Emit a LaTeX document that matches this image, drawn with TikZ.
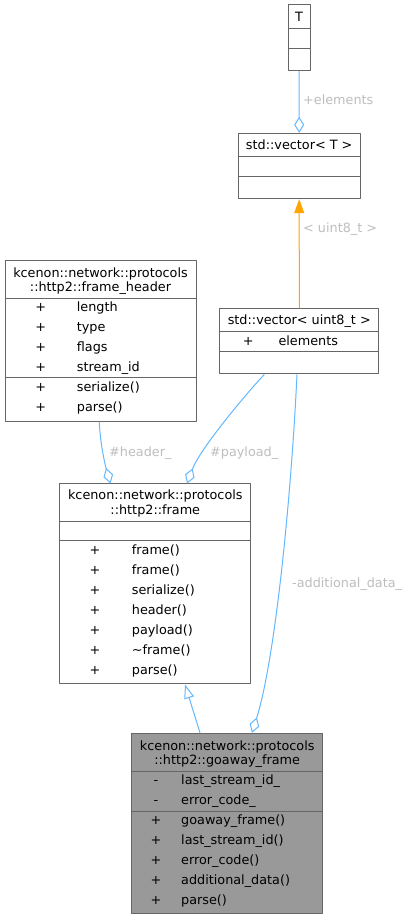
\documentclass[tikz,border=0pt]{standalone}
\usepackage{fontspec}
\setmainfont{DejaVu Sans}
\usetikzlibrary{arrows.meta}
\definecolor{boxcol}{rgb}{0.4,0.4,0.4}
\definecolor{edgecol}{HTML}{63B8FF}
\definecolor{tmplcol}{HTML}{FFA500}
\definecolor{lblcol}{HTML}{BEBEBE}
\definecolor{gfill}{HTML}{999999}

\begin{document}
\begin{tikzpicture}[>=latex,line join=bevel,
  cls/.style={draw=boxcol,line width=1bp,inner sep=0pt,rectangle},
  rowline/.style={draw=boxcol,line width=1bp},
  txt/.style={inner sep=0pt,text height=9bp,text depth=0bp,font=\fontsize{12.8bp}{14bp}\selectfont},
  mem/.style={txt,anchor=west},
  lbl/.style={txt,text=lblcol,anchor=west},
  link/.style={edgecol,line width=1bp},
  agg/.style={link,arrows={Diamond[open,length=16bp,width=10bp]-}},
]
%%
\begin{scope}
  \definecolor{fillcol}{rgb}{1.0,1.0,1.0};
  \pgfsetfillcolor{fillcol}
  \fill (0.0bp,0.0bp) -- (0.0bp,919.0bp) -- (411.0bp,919.0bp) -- (411.0bp,0.0bp) -- cycle;
\end{scope}
%% boxes
  \node (tT) at (299.0bp,881.2bp) [cls,minimum width=22bp,minimum height=65.7bp] {};
  \node (vecT) at (299.2bp,753.0bp) [cls,minimum width=121.7bp,minimum height=65.4bp] {};
  \node (vecU) at (299.3bp,577.5bp) [cls,minimum width=158.7bp,minimum height=65bp] {};
  \node (hdr) at (100.5bp,577.9bp) [cls,minimum width=191bp,minimum height=160.3bp] {};
  \node (frm) at (155.3bp,335.0bp) [cls,minimum width=190.7bp,minimum height=200bp] {};
  \node (gfr) at (227.2bp,95.7bp) [cls,fill=gfill,minimum width=191bp,minimum height=180bp] {};
  \draw [rowline] ([yshift=-24.0bp]tT.north west) -- ([yshift=-24.0bp]tT.north east);
  \draw [rowline] ([yshift=-43.7bp]tT.north west) -- ([yshift=-43.7bp]tT.north east);
  \draw [rowline] ([yshift=-23.7bp]vecT.north west) -- ([yshift=-23.7bp]vecT.north east);
  \draw [rowline] ([yshift=-43.7bp]vecT.north west) -- ([yshift=-43.7bp]vecT.north east);
  \draw [rowline] ([yshift=-22.7bp]vecU.north west) -- ([yshift=-22.7bp]vecU.north east);
  \draw [rowline] ([yshift=-43.0bp]vecU.north west) -- ([yshift=-43.0bp]vecU.north east);
  \draw [rowline] ([yshift=-37.7bp]hdr.north west) -- ([yshift=-37.7bp]hdr.north east);
  \draw [rowline] ([yshift=-117.3bp]hdr.north west) -- ([yshift=-117.3bp]hdr.north east);
  \draw [rowline] ([yshift=-37.7bp]frm.north west) -- ([yshift=-37.7bp]frm.north east);
  \draw [rowline] ([yshift=-57.0bp]frm.north west) -- ([yshift=-57.0bp]frm.north east);
  \draw [rowline] ([yshift=-38.4bp]gfr.north west) -- ([yshift=-38.4bp]gfr.north east);
  \draw [rowline] ([yshift=-78.4bp]gfr.north west) -- ([yshift=-78.4bp]gfr.north east);
%% texts
  \node (tTt) at (299.0bp,902.0bp) [txt] {T};
  \node (vecTt) at (299.2bp,774.0bp) [txt] {std::vector< T >};
  \node (vecUt) at (299.3bp,599.0bp) [txt] {std::vector< uint8\_t >};
  \node (vecUv1) at (248.3bp,577.5bp) [txt] {+};
  \node (vecUn1) at (278.3bp,577.5bp) [mem] {elements};
  \node (hdrt1) at (100.5bp,646.3bp) [txt] {kcenon::network::protocols};
  \node (hdrt2) at (100.5bp,632.3bp) [txt] {::http2::frame\_header};
  \node (hdrv1) at (40.7bp,612.0bp) [txt] {+};
  \node (hdrn1) at (76.7bp,612.0bp) [mem] {length};
  \node (hdrv2) at (40.7bp,592.0bp) [txt] {+};
  \node (hdrn2) at (76.7bp,592.0bp) [mem] {type};
  \node (hdrv3) at (40.7bp,572.0bp) [txt] {+};
  \node (hdrn3) at (76.7bp,572.0bp) [mem] {flags};
  \node (hdrv4) at (40.7bp,552.0bp) [txt] {+};
  \node (hdrn4) at (76.7bp,552.0bp) [mem] {stream\_id};
  \node (hdrv5) at (40.7bp,532.0bp) [txt] {+};
  \node (hdrn5) at (76.7bp,532.0bp) [mem] {serialize()};
  \node (hdrv6) at (40.7bp,512.0bp) [txt] {+};
  \node (hdrn6) at (76.7bp,512.0bp) [mem] {parse()};
  \node (frmt1) at (155.3bp,423.7bp) [txt] {kcenon::network::protocols};
  \node (frmt2) at (155.3bp,409.0bp) [txt] {::http2::frame};
  \node (frmv1) at (95.0bp,369.0bp) [txt] {+};
  \node (frmn1) at (131.7bp,369.0bp) [mem] {frame()};
  \node (frmv2) at (95.0bp,349.0bp) [txt] {+};
  \node (frmn2) at (131.7bp,349.0bp) [mem] {frame()};
  \node (frmv3) at (95.0bp,329.0bp) [txt] {+};
  \node (frmn3) at (131.7bp,329.0bp) [mem] {serialize()};
  \node (frmv4) at (95.0bp,309.0bp) [txt] {+};
  \node (frmn4) at (131.7bp,309.0bp) [mem] {header()};
  \node (frmv5) at (95.0bp,289.0bp) [txt] {+};
  \node (frmn5) at (131.7bp,289.0bp) [mem] {payload()};
  \node (frmv6) at (95.0bp,269.0bp) [txt] {+};
  \node (frmn6) at (131.7bp,269.0bp) [mem] {\textasciitilde frame()};
  \node (frmv7) at (95.0bp,249.0bp) [txt] {+};
  \node (frmn7) at (131.7bp,249.0bp) [mem] {parse()};
  \node (gfrt1) at (227.2bp,173.3bp) [txt] {kcenon::network::protocols};
  \node (gfrt2) at (227.2bp,159.0bp) [txt] {::http2::goaway\_frame};
  \node (gfrv1) at (156.0bp,139.0bp) [txt] {-};
  \node (gfrn1) at (181.0bp,139.0bp) [mem] {last\_stream\_id\_};
  \node (gfrv2) at (156.0bp,119.0bp) [txt] {-};
  \node (gfrn2) at (181.0bp,119.0bp) [mem] {error\_code\_};
  \node (gfrv3) at (156.0bp,99.0bp) [txt] {+};
  \node (gfrn3) at (181.0bp,99.0bp) [mem] {goaway\_frame()};
  \node (gfrv4) at (156.0bp,79.0bp) [txt] {+};
  \node (gfrn4) at (181.0bp,79.0bp) [mem] {last\_stream\_id()};
  \node (gfrv5) at (156.0bp,59.0bp) [txt] {+};
  \node (gfrn5) at (181.0bp,59.0bp) [mem] {error\_code()};
  \node (gfrv6) at (156.0bp,39.0bp) [txt] {+};
  \node (gfrn6) at (181.0bp,39.0bp) [mem] {additional\_data()};
  \node (gfrv7) at (156.0bp,19.0bp) [txt] {+};
  \node (gfrn7) at (181.0bp,19.0bp) [mem] {parse()};
%% edges
  \draw [agg] (vecT.north) -- (tT.south);
  \draw [tmplcol,line width=1bp,-{Triangle[length=14bp,width=10bp]}] (vecU.north) -- (vecT.south);
  \draw [agg] ([xshift=-44.8bp]frm.north) ..controls (104.0bp,458.0bp) and (99.8bp,480.0bp)  .. ([xshift=-1.2bp]hdr.south);
  \draw [agg] ([xshift=31.7bp]frm.north) ..controls (200.0bp,470.0bp) and (245.0bp,524.0bp)  .. ([xshift=-35.0bp]vecU.south);
  \draw [agg] ([xshift=24.8bp]gfr.north) ..controls (275.0bp,259.0bp) and (291.0bp,419.0bp)  .. ([xshift=-2.3bp]vecU.south);
  \draw [link,-{Triangle[open,length=14bp,width=10bp]}] ([xshift=-27.2bp]gfr.north) -- ([xshift=29.7bp]frm.south);
  \node (elab) at (303.0bp,819.0bp) [lbl] {+elements};
  \node (ulab) at (303.0bp,691.0bp) [lbl] {< uint8\_t >};
  \node (hlab) at (109.0bp,467.0bp) [lbl] {\#header\_};
  \node (plab) at (210.0bp,467.0bp) [lbl] {\#payload\_};
  \node (alab) at (292.0bp,336.3bp) [lbl] {-additional\_data\_};
%
\end{tikzpicture}
\end{document}
